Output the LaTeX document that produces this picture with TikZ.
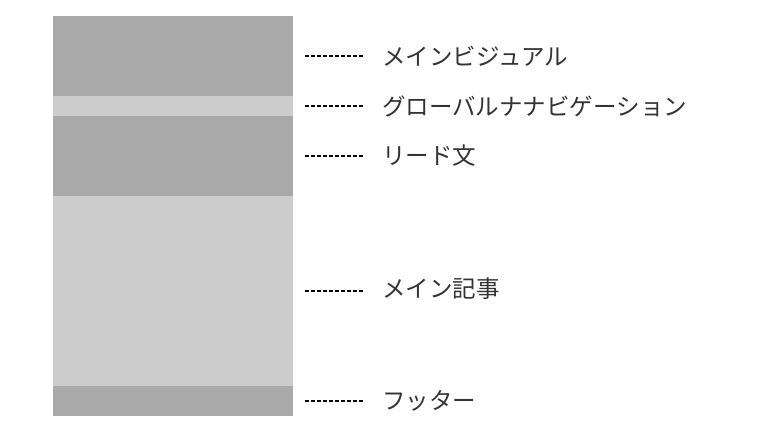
\documentclass[tikz,border=0pt]{standalone}
\usepackage{fontspec}
\usepackage{xcolor}
\usepackage{tikz}
\usetikzlibrary{positioning}

\newfontfamily\jpfont{Noto Sans CJK JP}
\definecolor{bandDark}{HTML}{AAAAAA}
\definecolor{bandLight}{HTML}{CCCCCC}
\definecolor{labelText}{HTML}{333333}

\begin{document}
\begin{tikzpicture}[x=1pt,y=1pt,
  band/.style={
   fill=#1,
   minimum width=240pt,
   inner sep=0pt,
   outer sep=0pt
  },
  caption/.style={
    inner sep=0pt,
    text=labelText,
    font=\jpfont\fontsize{23.5}{28}\selectfont
  },
  leader/.style={
    draw=black,
    line width=1.2pt,
    dash pattern=on 4pt off 2pt,
    shorten <=12pt,
    shorten >=19pt
  },
	node distance=0pt]
	\useasboundingbox (0,0) rectangle (768,-432);
	% page layout bands
	\node[band=bandDark,minimum height=80pt,anchor=north west] at (53,-16)
		  (vis) {};
	\node[band=bandLight,minimum height=20pt,below=of vis]
		  (nav) {};
	\node[band=bandDark,minimum height=80pt,below=of nav]
		  (lead) {};
	\node[band=bandLight,minimum height=190pt,below=of lead]
		  (main) {};
	\node[band=bandDark,minimum height=30pt,below=of main]
		  (foot) {};
	% labels
	\node[caption,right=89pt of vis]  (lvis)  {メインビジュアル};
	\node[caption,right=89pt of nav]  (lnav)  {グローバルナナビゲーション};
	\node[caption,right=89pt of lead] (llead) {リード文};
	\node[caption,right=89pt of main,yshift=2pt] (lmain) {メイン記事};
	\node[caption,right=89pt of foot] (lfoot) {フッター};

	\foreach \b in {vis,nav,lead,main,foot}
		\draw[leader] (\b.east) -- (\b.east-|l\b.west);
\end{tikzpicture}
\end{document}
